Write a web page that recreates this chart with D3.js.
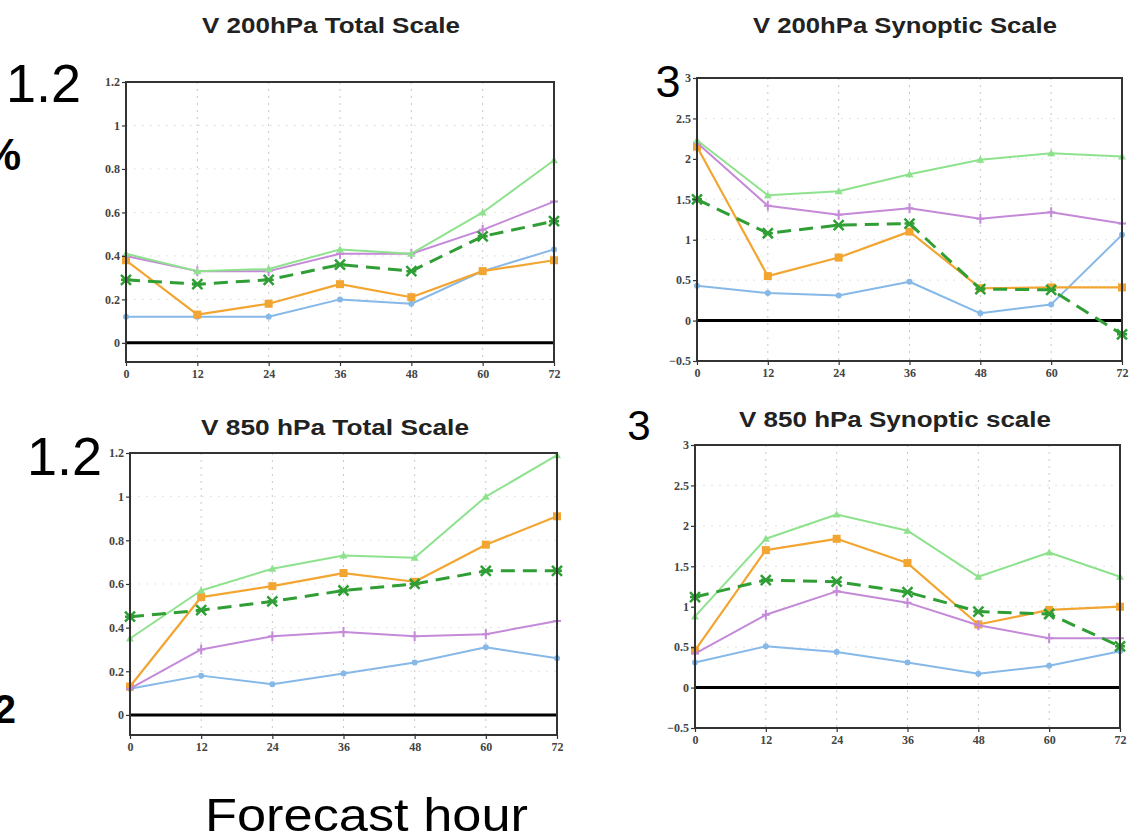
<!DOCTYPE html>
<html><head><meta charset="utf-8">
<script src="https://cdn.jsdelivr.net/npm/d3@7"></script>
<style>
html,body{margin:0;padding:0;background:#fff;}
svg{display:block;}
</style></head>
<body>
<svg id="chart" width="1130" height="838"></svg>
<script>
// ---------- DATA ----------
const hours = [0, 12, 24, 36, 48, 60, 72];
const xTickLabels = ["0", "12", "24", "36", "48", "60", "72"];
const totalYTicks = [0, 0.2, 0.4, 0.6, 0.8, 1, 1.2];
const totalYTickLabels = ["0", "0.2", "0.4", "0.6", "0.8", "1", "1.2"];
const synYTicks = [-0.5, 0, 0.5, 1, 1.5, 2, 2.5, 3];
const synYTickLabels = ["\u22120.5", "0", "0.5", "1", "1.5", "2", "2.5", "3"];
const panelTitles = ["V 200hPa Total Scale", "V 200hPa Synoptic Scale", "V 850 hPa Total Scale", "V 850 hPa Synoptic scale"];
const seriesNames = ["blue", "orange", "purple", "lightgreen", "darkgreen"];

// V 200hPa Total Scale
const v200TotalBlue       = [0.12, 0.12, 0.12, 0.20, 0.18, 0.33, 0.43];
const v200TotalOrange     = [0.38, 0.13, 0.18, 0.27, 0.21, 0.33, 0.38];
const v200TotalPurple     = [0.40, 0.33, 0.33, 0.41, 0.41, 0.52, 0.65];
const v200TotalLightGreen = [0.41, 0.33, 0.34, 0.43, 0.41, 0.60, 0.84];
const v200TotalDarkGreen  = [0.29, 0.27, 0.29, 0.36, 0.33, 0.49, 0.56];
// V 200hPa Synoptic Scale
const v200SynBlue       = [0.43, 0.34, 0.31, 0.48, 0.09, 0.20, 1.06];
const v200SynOrange     = [2.15, 0.55, 0.78, 1.10, 0.40, 0.41, 0.41];
const v200SynPurple     = [2.20, 1.42, 1.31, 1.39, 1.26, 1.34, 1.20];
const v200SynLightGreen = [2.23, 1.55, 1.60, 1.81, 1.99, 2.07, 2.03];
const v200SynDarkGreen  = [1.50, 1.08, 1.18, 1.20, 0.39, 0.38, -0.17];
// V 850 hPa Total Scale
const v850TotalBlue       = [0.12, 0.18, 0.14, 0.19, 0.24, 0.31, 0.26];
const v850TotalOrange     = [0.13, 0.54, 0.59, 0.65, 0.61, 0.78, 0.91];
const v850TotalPurple     = [0.12, 0.30, 0.36, 0.38, 0.36, 0.37, 0.43];
const v850TotalLightGreen = [0.35, 0.57, 0.67, 0.73, 0.72, 1.00, 1.19];
const v850TotalDarkGreen  = [0.45, 0.48, 0.52, 0.57, 0.60, 0.66, 0.66];
// V 850 hPa Synoptic scale
const v850SynBlue       = [0.31, 0.51, 0.44, 0.31, 0.17, 0.27, 0.45];
const v850SynOrange     = [0.46, 1.70, 1.84, 1.54, 0.78, 0.96, 1.00];
const v850SynPurple     = [0.42, 0.90, 1.19, 1.05, 0.77, 0.61, 0.61];
const v850SynLightGreen = [0.88, 1.84, 2.14, 1.94, 1.37, 1.67, 1.37];
const v850SynDarkGreen  = [1.12, 1.33, 1.31, 1.18, 0.94, 0.91, 0.51];

// ---------- STYLE ----------
const styles = {
  blue:       {color: "#86b8e8", width: 2,   dash: null,   marker: "circle"},
  orange:     {color: "#f2a531", width: 2.2, dash: null,   marker: "square"},
  purple:     {color: "#c48ad8", width: 2,   dash: null,   marker: "plus"},
  lightgreen: {color: "#8ee28e", width: 2,   dash: null,   marker: "tri"},
  darkgreen:  {color: "#2f9e34", width: 3,   dash: "14,8", marker: "x"}
};

const panels = [
  {title: panelTitles[0], x0: 126, x1: 554, y0: 82, y1: 362, dom: [-0.088, 1.2], ticks: totalYTicks, tlabels: totalYTickLabels, titleY: 33, titleX: 331, titleW: 258,
   data: [v200TotalBlue, v200TotalOrange, v200TotalPurple, v200TotalLightGreen, v200TotalDarkGreen]},
  {title: panelTitles[1], x0: 697, x1: 1122, y0: 78, y1: 361, dom: [-0.5, 3], ticks: synYTicks, tlabels: synYTickLabels, titleY: 33, titleX: 905, titleW: 304,
   data: [v200SynBlue, v200SynOrange, v200SynPurple, v200SynLightGreen, v200SynDarkGreen]},
  {title: panelTitles[2], x0: 130, x1: 557, y0: 453, y1: 735, dom: [-0.092, 1.2], ticks: totalYTicks, tlabels: totalYTickLabels, titleY: 435, titleX: 335, titleW: 268,
   data: [v850TotalBlue, v850TotalOrange, v850TotalPurple, v850TotalLightGreen, v850TotalDarkGreen]},
  {title: panelTitles[3], x0: 695, x1: 1120, y0: 445, y1: 728, dom: [-0.5, 3], ticks: synYTicks, tlabels: synYTickLabels, titleY: 427, titleX: 895, titleW: 312,
   data: [v850SynBlue, v850SynOrange, v850SynPurple, v850SynLightGreen, v850SynDarkGreen]}
];

const svg = d3.select("#chart");

panels.forEach(p => {
  const x = d3.scaleLinear().domain([0, 72]).range([p.x0, p.x1]);
  const y = d3.scaleLinear().domain(p.dom).range([p.y1, p.y0]);
  const g = svg.append("g");

  // title
  g.append("text").attr("x", p.titleX).attr("y", p.titleY)
    .attr("text-anchor", "middle")
    .attr("font-family", "Liberation Sans, Arial, sans-serif")
    .attr("font-weight", "bold").attr("font-size", 22).attr("fill", "#222")
    .attr("textLength", p.titleW).attr("lengthAdjust", "spacingAndGlyphs")
    .text(p.title);

  // grid
  g.selectAll(".vg").data(hours.slice(1, -1)).enter().append("line")
    .attr("x1", d => x(d)).attr("x2", d => x(d)).attr("y1", p.y0).attr("y2", p.y1)
    .attr("stroke", "#c8c8c8").attr("stroke-width", 1).attr("stroke-dasharray", "2,5");
  g.selectAll(".hg").data(p.ticks.filter(t => t !== 0 && t > p.dom[0] && t < p.dom[1])).enter().append("line")
    .attr("x1", p.x0).attr("x2", p.x1).attr("y1", d => y(d)).attr("y2", d => y(d))
    .attr("stroke", "#e4e4e4").attr("stroke-width", 1).attr("stroke-dasharray", "2,6");

  // zero line
  g.append("line").attr("x1", p.x0).attr("x2", p.x1).attr("y1", y(0)).attr("y2", y(0))
    .attr("stroke", "#000").attr("stroke-width", 3);

  // series
  const line = d3.line().x((d, i) => x(hours[i])).y(d => y(d));
  p.data.forEach((vals, si) => {
    const st = styles[seriesNames[si]];
    g.append("path").datum(vals).attr("d", line)
      .attr("fill", "none").attr("stroke", st.color).attr("stroke-width", st.width)
      .attr("stroke-dasharray", st.dash).attr("stroke-linejoin", "round");
    const mk = g.append("g");
    vals.forEach((v, i) => {
      const cx = x(hours[i]), cy = y(v);
      if (st.marker === "circle") {
        mk.append("circle").attr("cx", cx).attr("cy", cy).attr("r", 3).attr("fill", st.color);
      } else if (st.marker === "square") {
        mk.append("rect").attr("x", cx - 4).attr("y", cy - 4).attr("width", 8).attr("height", 8).attr("fill", st.color);
      } else if (st.marker === "plus") {
        mk.append("path").attr("d", `M${cx-4},${cy}H${cx+4}M${cx},${cy-5}V${cy+5}`)
          .attr("stroke", st.color).attr("stroke-width", 2);
      } else if (st.marker === "tri") {
        mk.append("path").attr("d", `M${cx},${cy-4}L${cx+4},${cy+3}L${cx-4},${cy+3}Z`).attr("fill", st.color);
      } else {
        mk.append("path").attr("d", `M${cx-5},${cy-5}L${cx+5},${cy+5}M${cx-5},${cy+5}L${cx+5},${cy-5}M${cx-5},${cy}H${cx+5}`)
          .attr("stroke", st.color).attr("stroke-width", 2.5);
      }
    });
  });

  // frame
  g.append("rect").attr("x", p.x0).attr("y", p.y0).attr("width", p.x1 - p.x0).attr("height", p.y1 - p.y0)
    .attr("fill", "none").attr("stroke", "#333").attr("stroke-width", 2);

  // axes
  const ya = d3.axisLeft(y).tickValues(p.ticks).tickFormat((d, i) => p.tlabels[i]).tickSize(4).tickPadding(2);
  const yg = g.append("g").attr("transform", `translate(${p.x0},0)`).call(ya);
  const xa = d3.axisBottom(x).tickValues(hours).tickFormat((d, i) => xTickLabels[i]).tickSize(4).tickPadding(3);
  const xg = g.append("g").attr("transform", `translate(0,${p.y1})`).call(xa);
  [yg, xg].forEach(a => {
    a.select(".domain").remove();
    a.selectAll("line").attr("stroke", "#333").attr("stroke-width", 1.2);
    a.selectAll("text").attr("font-family", "Liberation Serif, serif").attr("font-weight", "bold")
      .attr("font-size", 12).attr("fill", "#444");
  });
});

// overlay annotations
const ann = svg.append("g").attr("font-family", "Liberation Sans, Arial, sans-serif").attr("fill", "#000");
ann.append("text").attr("x", 81).attr("y", 102).attr("text-anchor", "end").attr("font-size", 54).text("1.2");
ann.append("text").attr("x", 21).attr("y", 170).attr("text-anchor", "end").attr("font-size", 44).attr("font-weight", "bold").text("%");
ann.append("text").attr("x", 668).attr("y", 97).attr("text-anchor", "middle").attr("font-size", 45).text("3");
ann.append("text").attr("x", 102).attr("y", 475).attr("text-anchor", "end").attr("font-size", 54).text("1.2");
ann.append("text").attr("x", 16).attr("y", 723).attr("text-anchor", "end").attr("font-size", 40).attr("font-weight", "bold").text("2");
ann.append("text").attr("x", 639).attr("y", 440).attr("text-anchor", "middle").attr("font-size", 42).text("3");
ann.append("text").attr("x", 205).attr("y", 831).attr("font-size", 46).attr("textLength", 323).attr("lengthAdjust", "spacingAndGlyphs").text("Forecast hour");
</script>
</body></html>
